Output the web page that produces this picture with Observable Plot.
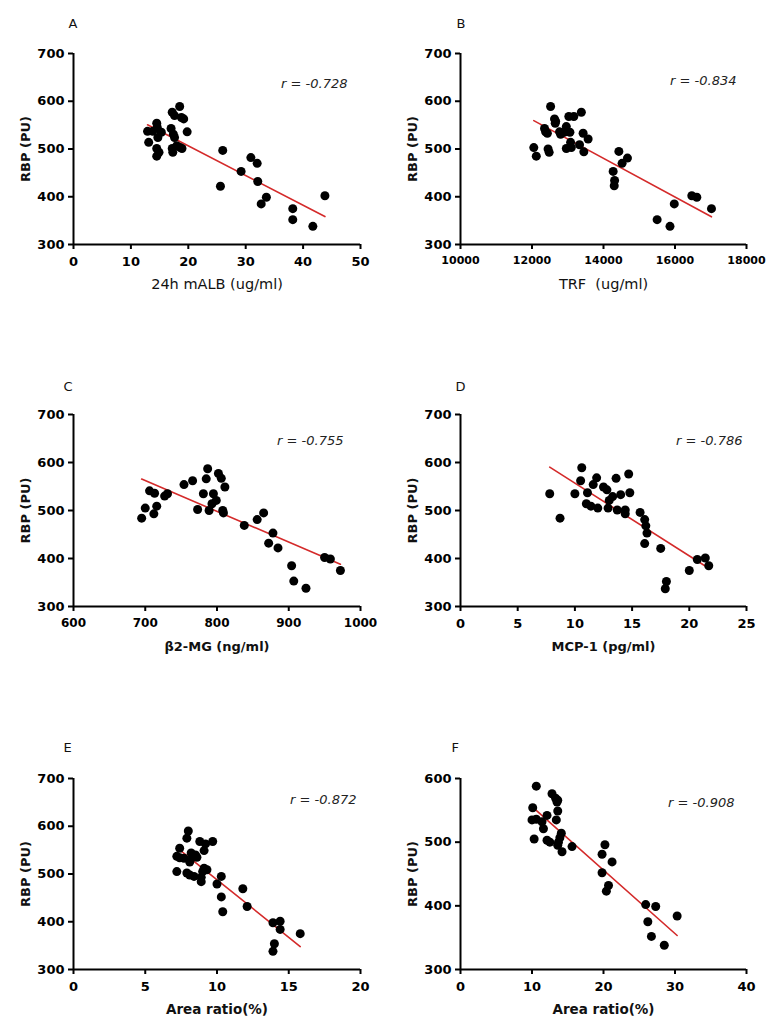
<!DOCTYPE html>
<html><head><meta charset="utf-8">
<script src="https://cdn.jsdelivr.net/npm/d3@7"></script>
<script src="https://cdn.jsdelivr.net/npm/@observablehq/plot@0.6"></script>
<style>
body{margin:0;background:#fff;}
#wrap{position:relative;width:782px;height:1034px;font-family:"DejaVu Sans",sans-serif;}
.panel{position:absolute;}
text{white-space:pre;}
</style></head><body><div id="wrap"></div>
<script>
// ---- data ----
const rbpTicks = [300, 400, 500, 600, 700];
const rbpTicksF = [300, 400, 500, 600];
const yLabel = "RBP (PU)";

const aTicks = [0, 10, 20, 30, 40, 50];
const aX = [12.9,13.1,13.8,14.5,14.6,15.3,14.7,14.5,14.9,14.5,17.2,18.5,17.6,18.8,19.2,17.0,17.4,17.6,19.8,17.2,17.3,18.6,18.9,18.0,26.0,25.6,29.2,30.9,32.0,32.1,32.7,33.6,38.2,38.2,41.7,43.8];
const aY = [537,514,537,554,545,535,524,501,493,485,577,589,570,566,563,543,531,524,536,501,493,503,501,507,497,422,453,482,470,432,385,399,375,352,338,402];

const bTicks = [10000, 12000, 14000, 16000, 18000];
const bX = [12520,12630,12660,12650,12960,13030,13170,13380,12900,12350,12380,12430,12770,12800,13060,13430,13570,12050,12120,12450,12480,12960,13100,13080,13330,13450,14430,14270,14310,14300,14520,14670,15980,16470,16610,17020,15500,15860];
const bY = [589,563,558,554,547,568,568,577,535,543,536,533,536,531,535,533,521,503,485,500,493,501,503,514,509,494,495,453,434,423,470,481,385,402,399,375,352,338];

const cTicks = [600, 700, 800, 900, 1000];
const cX = [695,700,706,713,712,716,727,731,754,766,773,781,787,785,789,795,793,799,802,806,811,808,809,838,856,865,878,872,885,904,907,924,950,958,972];
const cY = [484,505,541,536,493,509,530,535,554,562,502,535,587,566,500,535,514,521,577,567,549,500,495,469,481,495,453,432,422,385,353,338,402,399,375];

const dTicks = [0, 5, 10, 15, 20, 25];
const dX = [7.8,8.7,10.0,10.6,10.5,11.1,11.0,11.4,11.6,11.9,12.0,12.5,12.8,12.9,13.0,13.3,13.6,13.7,14.0,14.4,14.4,14.7,14.8,15.7,16.1,16.2,16.3,16.1,17.5,18.0,17.9,20.0,20.7,21.4,21.7];
const dY = [535,484,535,589,562,537,514,509,554,568,505,549,543,505,521,529,567,501,533,501,493,576,537,496,481,468,453,431,421,352,337,375,398,401,385];

const eTicks = [0, 5, 10, 15, 20];
const eX = [8.0,7.9,7.4,7.2,7.4,7.7,7.2,8.8,9.2,9.7,9.1,8.2,8.3,8.1,8.6,8.5,7.9,8.1,8.4,9.1,9.3,9.0,8.9,8.9,10.0,10.3,10.3,10.4,11.8,12.1,13.9,14.4,14.4,15.8,14.0,13.9];
const eY = [590,575,554,537,534,533,505,568,563,568,549,544,535,525,535,540,502,498,495,512,509,505,493,484,479,495,452,421,469,432,398,401,384,375,354,338];

const fTicks = [0, 10, 20, 30, 40];
const fX = [10.6,12.8,13.3,13.6,13.5,10.1,13.6,12.1,10.0,10.6,11.4,11.6,13.4,14.1,13.9,13.7,13.6,14.2,10.3,12.1,12.5,15.6,20.2,19.8,21.2,19.8,20.7,20.4,25.9,27.3,30.3,26.2,26.7,28.5];
const fY = [588,576,569,566,563,554,549,542,535,536,532,521,535,514,507,500,495,485,505,503,500,493,496,481,469,452,432,423,402,399,384,375,352,338];

const panelIds = ["A", "B", "C", "D", "E", "F"];
const xLabels = ["24h mALB (ug/ml)", "TRF  (ug/ml)", "β2-MG (ng/ml)", "MCP-1 (pg/ml)", "Area ratio(%)", "Area ratio(%)"];
const rLabels = ["r = -0.728", "r = -0.834", "r = -0.755", "r = -0.786", "r = -0.872", "r = -0.908"];

// ---- layout / style ----
const panels = [
  {x: aX, y: aY, xt: aTicks, yt: rbpTicks, left: 0,   top: 0,   h: 300, mt: 53, mb: 56, ml: 73, mr: 31, xlW: "normal", xlS: 14.5, xtS: 13, rdx: -13, rdy: 30, ldx: -5,  ldy: -30},
  {x: bX, y: bY, xt: bTicks, yt: rbpTicks, left: 391, top: 0,   h: 300, mt: 53, mb: 56, ml: 69, mr: 36, xlW: "normal", xlS: 14.5, xtS: 11, rdx: -10, rdy: 27, ldx: -4,  ldy: -30},
  {x: cX, y: cY, xt: cTicks, yt: rbpTicks, left: 0,   top: 360, h: 300, mt: 54, mb: 54, ml: 73, mr: 31, xlW: "bold",   xlS: 13,   xtS: 12, rdx: -17, rdy: 26, ldx: -10, ldy: -28},
  {x: dX, y: dY, xt: dTicks, yt: rbpTicks, left: 391, top: 360, h: 300, mt: 54, mb: 54, ml: 69, mr: 36, xlW: "bold",   xlS: 13,   xtS: 13, rdx: -4,  rdy: 26, ldx: -5,  ldy: -28},
  {x: eX, y: eY, xt: eTicks, yt: rbpTicks, left: 0,   top: 724, h: 310, mt: 54, mb: 65, ml: 73, mr: 31, xlW: "bold",   xlS: 13.5, xtS: 13, rdx: -4,  rdy: 21, ldx: -10, ldy: -31},
  {x: fX, y: fY, xt: fTicks, yt: rbpTicksF, left: 391, top: 724, h: 310, mt: 54, mb: 65, ml: 69, mr: 36, xlW: "bold",  xlS: 13.5, xtS: 13, rdx: -12, rdy: 24, ldx: -9,  ldy: -31}
];

const wrap = document.getElementById("wrap");
panels.forEach((p, i) => {
  const data = p.x.map((x, j) => ({x, y: p.y[j]}));
  const xd = [p.xt[0], p.xt[p.xt.length - 1]];
  const yd = [p.yt[0], p.yt[p.yt.length - 1]];
  const svg = Plot.plot({
    width: 391, height: p.h,
    marginLeft: p.ml, marginRight: p.mr, marginTop: p.mt, marginBottom: p.mb,
    style: {fontFamily: "'DejaVu Sans', sans-serif", background: "white", color: "black", overflow: "visible"},
    x: {domain: xd},
    y: {domain: yd},
    marks: [
      Plot.axisX({ticks: p.xt, tickSize: 5, tickPadding: 7, strokeWidth: 2, fontSize: p.xtS, fontWeight: "bold", label: null, tickFormat: d => String(d)}),
      Plot.axisY({ticks: p.yt, tickSize: 5, tickPadding: 4, strokeWidth: 2, fontSize: 13, fontWeight: "bold", label: null, tickFormat: d => String(d)}),
      Plot.ruleX([xd[0]], {stroke: "black", strokeWidth: 2}),
      Plot.ruleY([yd[0]], {stroke: "black", strokeWidth: 2}),
      Plot.linearRegressionY(data, {x: "x", y: "y", stroke: "#d42a2a", strokeWidth: 1.6, ci: 0}),
      Plot.dot(data, {x: "x", y: "y", r: 4.5, fill: "black", stroke: "none"}),
      Plot.text([rLabels[i]], {text: d => d, frameAnchor: "top-right", textAnchor: "end", lineAnchor: "middle", dx: p.rdx, dy: p.rdy, fontStyle: "italic", fontSize: 13, fill: "#222"}),
      Plot.text([panelIds[i]], {text: d => d, frameAnchor: "top-left", textAnchor: "start", lineAnchor: "middle", dx: p.ldx, dy: p.ldy, fontSize: 13, fill: "#111"}),
      Plot.text([xLabels[i]], {text: d => d, frameAnchor: "bottom", textAnchor: "middle", lineAnchor: "middle", dy: 40, fontSize: p.xlS, fontWeight: p.xlW, fill: "#111"}),
      Plot.text([yLabel], {text: d => d, frameAnchor: "left", textAnchor: "middle", lineAnchor: "middle", dx: -48, rotate: -90, fontSize: 13, fontWeight: "bold", fill: "#111"})
    ]
  });
  svg.classList.add("panel");
  svg.style.left = p.left + "px";
  svg.style.top = p.top + "px";
  wrap.appendChild(svg);
});
</script>
</body></html>
